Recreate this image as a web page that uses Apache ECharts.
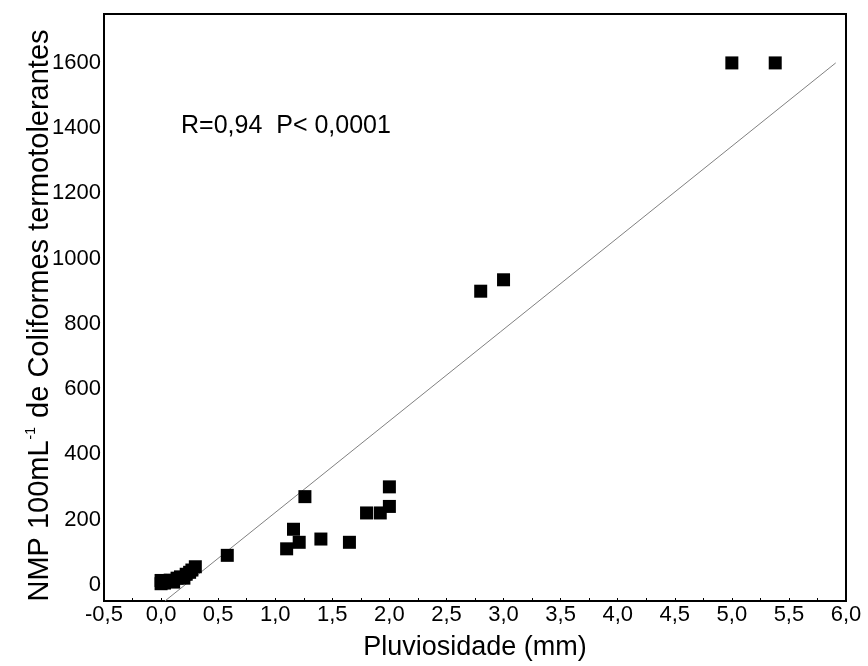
<!DOCTYPE html>
<html>
<head>
<meta charset="utf-8">
<script src="https://cdn.jsdelivr.net/npm/echarts@6/dist/echarts.min.js"></script>
<style>
html,body{margin:0;padding:0;background:#fff;}
#chart{width:868px;height:666px;}
</style>
</head>
<body>
<div id="chart"></div>
<script>
// Data
var rainfall = [0.00, 0.00, 0.03, 0.06, 0.08, 0.11, 0.14, 0.17, 0.20, 0.22, 0.25, 0.27, 0.30, 0.58, 1.10, 1.16, 1.21, 1.26, 1.40, 1.65, 1.80, 1.92, 2.00, 2.00, 2.80, 3.00, 5.00, 5.38];
var coliforms = [3, 13, 5, 10, 14, 8, 20, 24, 20, 32, 38, 45, 55, 90, 110, 170, 130, 270, 140, 130, 220, 220, 240, 300, 900, 935, 1600, 1600];
// Regression line (linear fit) endpoints
var fitSlope = 280.8;
var fitIntercept = -59.5;
var fitX = [0.034, 5.91];
var yTickValues = [0, 200, 400, 600, 800, 1000, 1200, 1400, 1600];
var annotationText = 'R=0,94  P< 0,0001';

var FONT = '"Liberation Sans", Arial, Helvetica, sans-serif';

var points = rainfall.map(function (x, i) { return [x, coliforms[i]]; });
var fitLine = fitX.map(function (x) { return [x, fitSlope * x + fitIntercept]; });

var chart = echarts.init(document.getElementById('chart'), null, {renderer: 'canvas'});
chart.setOption({
  animation: false,
  backgroundColor: '#fff',
  textStyle: {fontFamily: FONT},
  grid: {
    left: 104, right: 22, top: 14, bottom: 64,
    show: true, borderColor: '#000', borderWidth: 2, backgroundColor: 'transparent'
  },
  xAxis: {
    type: 'value',
    min: -0.5, max: 6.0, interval: 0.5,
    name: 'Pluviosidade (mm)',
    nameLocation: 'middle',
    nameGap: 33,
    nameTextStyle: {fontFamily: FONT, fontSize: 27, color: '#000'},
    axisLine: {show: true, onZero: false, lineStyle: {color: '#000', width: 2}},
    axisTick: {show: true, inside: true, length: 3, lineStyle: {color: '#000'}},
    minorTick: {show: true, splitNumber: 2, length: 3, lineStyle: {color: '#000'}},
    splitLine: {show: false},
    axisLabel: {
      fontFamily: FONT, fontSize: 22, color: '#000', margin: 3,
      formatter: function (v) { return v.toFixed(1).replace('.', ','); }
    }
  },
  yAxis: {
    type: 'value',
    min: -50, max: 1750,
    name: '{m|NMP 100mL}{s|-1}{m| de Coliformes termotolerantes}',
    nameLocation: 'middle',
    nameGap: 49,
    nameMoveOverlap: false,
    nameTextStyle: {
      fontFamily: FONT, fontSize: 29, color: '#000',
      padding: [0, 16, 0, 0],
      rich: {
        m: {fontFamily: FONT, fontSize: 29, color: '#000'},
        s: {fontFamily: FONT, fontSize: 14, color: '#000', verticalAlign: 'top', padding: [0, 1, 17, 1]}
      }
    },
    axisLine: {show: true, onZero: false, lineStyle: {color: '#000', width: 2}},
    axisTick: {show: false},
    splitLine: {show: false},
    axisLabel: {
      fontFamily: FONT, fontSize: 22, color: '#000', margin: 3,
      customValues: yTickValues,
      formatter: function (v) { return String(v); }
    }
  },
  graphic: [{
    type: 'text',
    left: 181, top: 114,
    style: {text: annotationText, fontFamily: FONT, fontSize: 25, fill: '#000'}
  }],
  series: [{
    type: 'line',
    data: fitLine,
    symbol: 'none',
    lineStyle: {color: '#808080', width: 1},
    z: 1
  }, {
    type: 'scatter',
    data: points,
    symbol: 'rect',
    symbolSize: 13,
    itemStyle: {color: '#000', opacity: 1},
    z: 2
  }]
});
</script>
</body>
</html>
